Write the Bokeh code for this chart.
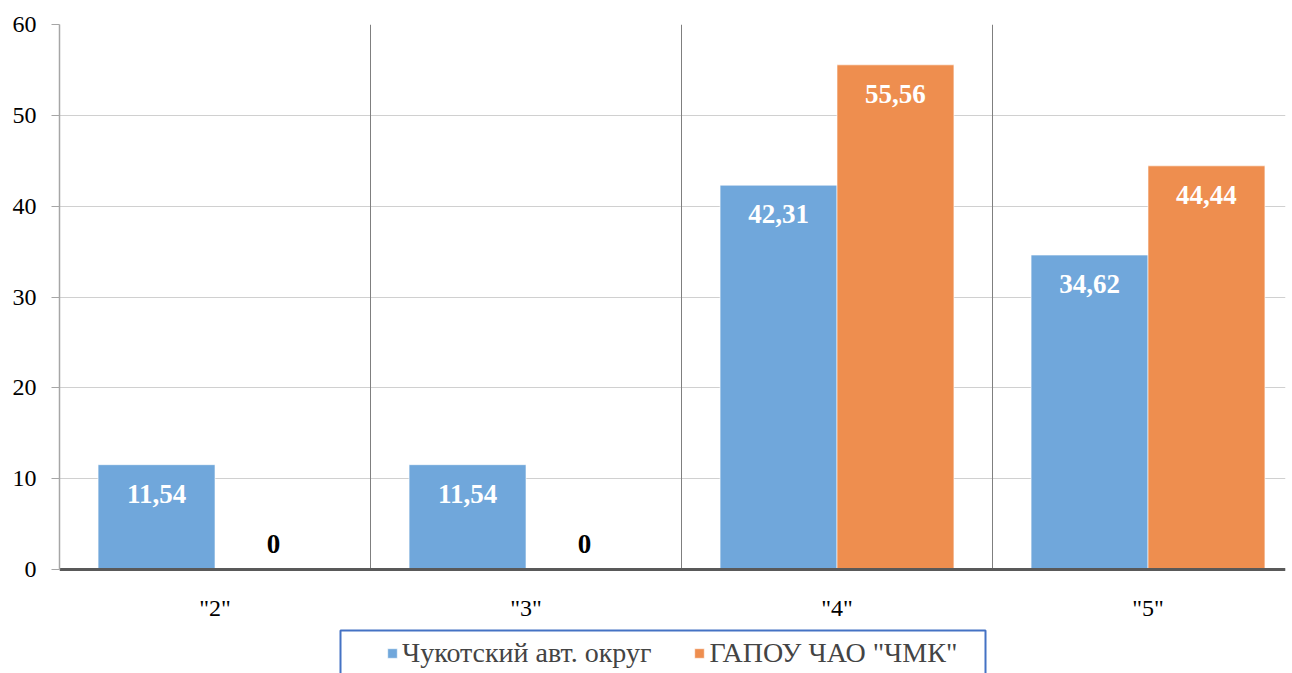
from bokeh.plotting import figure
from bokeh.models import ColumnDataSource, FixedTicker, Legend, LegendItem, BoxAnnotation, Range1d
from bokeh.core.properties import value
from bokeh.embed import file_html
from bokeh.resources import INLINE

categories = ['"2"', '"3"', '"4"', '"5"']
series_names = ["Чукотский авт. округ", 'ГАПОУ ЧАО "ЧМК"']
chukotka = [11.54, 11.54, 42.31, 34.62]
gapou = [0, 0, 55.56, 44.44]
y_ticks = [0, 10, 20, 30, 40, 50, 60]

BLUE = "#70A7DB"
ORANGE = "#EE8E4F"
FONT = "Liberation Serif"
BAR_W = 0.376

W, H = 1292, 673
LEFT, RIGHT, TOP = 59, 7, 24
ZERO_PX = 569  # canvas y of value 0
px_per_unit = (ZERO_PX - TOP) / (y_ticks[-1] - y_ticks[0])
y_start = -(H - ZERO_PX) / px_per_unit


def fmt(v):
    return "0" if v == 0 else ("%.2f" % v).replace(".", ",")


def make_source(vals, shift):
    idx = list(range(len(vals)))
    return ColumnDataSource(dict(
        x=[i + 0.5 + shift for i in idx],
        top=vals,
        label=[fmt(v) for v in vals],
        color=["black" if v == 0 else "white" for v in vals],
        yoff=[-26 if v == 0 else 29 for v in vals],
    ))


src_a = make_source(chukotka, -BAR_W / 2)
src_b = make_source(gapou, BAR_W / 2)

p = figure(width=W, height=H, output_backend="svg", toolbar_location=None,
           x_range=Range1d(0, (W - LEFT - RIGHT) / 311), y_range=Range1d(y_start, y_ticks[-1]),
           min_border_left=LEFT, min_border_right=RIGHT, min_border_top=TOP, min_border_bottom=0)
p.outline_line_color = None
p.background_fill_color = "white"

# horizontal grid
p.ygrid.ticker = FixedTicker(ticks=y_ticks)
p.ygrid.grid_line_color = "#d0d0d0"
p.ygrid.grid_line_width = 1
p.xgrid.visible = False

# category separators
n = len(categories)
p.segment(x0=list(range(1, n)), x1=list(range(1, n)),
          y0=[y_ticks[0]] * (n - 1), y1=[y_ticks[-1]] * (n - 1),
          line_color="#7f7f7f", line_width=1)

r_a = p.vbar(x="x", top="top", width=BAR_W, source=src_a, fill_color=BLUE,
             line_color="#ffffff", line_alpha=0.6, line_width=1)
r_b = p.vbar(x="x", top="top", width=BAR_W, source=src_b, fill_color=ORANGE,
             line_color="#ffffff", line_alpha=0.6, line_width=1)

for src in (src_a, src_b):
    p.text(x="x", y="top", text="label", source=src, text_color="color",
           y_offset="yoff", text_align="center", text_baseline="middle",
           text_font=value(FONT), text_font_style="bold", text_font_size="27px")

# y axis
p.yaxis.ticker = FixedTicker(ticks=y_ticks)
p.yaxis.bounds = (y_ticks[0], y_ticks[-1])
p.yaxis.axis_line_color = "#a6a6a6"
p.yaxis.axis_line_width = 1.5
p.yaxis.major_tick_line_color = "#a6a6a6"
p.yaxis.major_tick_out = 8
p.yaxis.major_tick_in = 0
p.yaxis.minor_tick_line_color = None
p.yaxis.major_label_standoff = 15
p.yaxis.major_label_text_font = FONT
p.yaxis.major_label_text_font_size = "24px"
p.yaxis.major_label_text_color = "black"

# x axis, fixed at value 0
p.xaxis.fixed_location = 0
p.xaxis.ticker = FixedTicker(ticks=[i + 0.5 for i in range(n)])
p.xaxis.major_label_overrides = {i + 0.5: c for i, c in enumerate(categories)}
p.xaxis.axis_line_color = "#595959"
p.xaxis.axis_line_width = 3
p.xaxis.major_tick_line_color = None
p.xaxis.minor_tick_line_color = None
p.xaxis.major_label_standoff = 19
p.xaxis.major_label_text_font = FONT
p.xaxis.major_label_text_font_size = "24px"
p.xaxis.major_label_text_color = "black"

# legend box
box = BoxAnnotation(left=340, right=985, top=630, bottom=700,
                    left_units="canvas", right_units="canvas",
                    top_units="canvas", bottom_units="canvas",
                    fill_color="white", fill_alpha=1.0,
                    line_color="#4472C4", line_alpha=1.0, line_width=2)
p.add_layout(box)

legend = Legend(items=[LegendItem(label=series_names[0], renderers=[r_a]),
                       LegendItem(label=series_names[1], renderers=[r_b])],
                orientation="horizontal", location=(386 - LEFT, 4),
                padding=0, margin=0, spacing=42, label_standoff=4,
                glyph_width=12, glyph_height=12, label_height=24,
                label_text_font=FONT, label_text_font_size="28px",
                label_text_baseline="middle",
                border_line_alpha=0, background_fill_alpha=0)
p.add_layout(legend, "center")

open("out.html", "w").write(file_html(p, INLINE))
